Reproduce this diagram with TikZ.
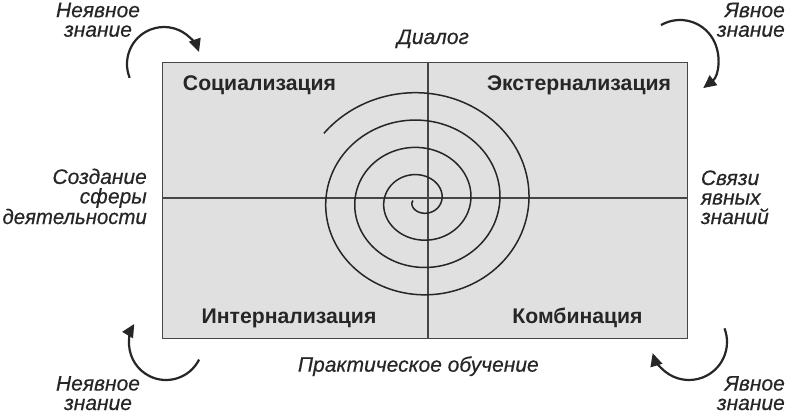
\documentclass[tikz,border=0pt]{standalone}
\usepackage{fontspec}
\setmainfont{Liberation Sans}[ItalicFeatures={FakeBold=0.4}]
\usetikzlibrary{arrows.meta}
\definecolor{boxfill}{RGB}{224,224,224}
\definecolor{linegray}{RGB}{70,70,70}
\definecolor{inkgray}{RGB}{38,38,38}
\begin{document}
\begin{tikzpicture}[x=1pt,y=-1pt,
  quad/.style={font=\fontsize{21.2}{22}\selectfont\bfseries, text=inkgray, anchor=base, inner sep=0pt},
  side/.style={font=\fontsize{21}{19.5}\selectfont\itshape, text=inkgray, inner sep=0pt},
  turn/.style={draw=inkgray, line width=2.2pt, -{Triangle[length=13pt,width=12pt]}},
  gridline/.style={draw=linegray, line width=1.6pt},
  spiralline/.style={draw=inkgray, line width=1.5pt}]
\useasboundingbox (0,0) rectangle (790,413);
\fill[white] (0,0) rectangle (790,413);
% box
\node[draw=linegray, fill=boxfill, line width=1.6pt, minimum width=525pt, minimum height=276pt, inner sep=0pt] (box) at (425,200.5) {};
\coordinate (vt) at (427.7,62.5);
\coordinate (vb) at (427.7,338.5);
\coordinate (hl) at (162.5,197.7);
\coordinate (hr) at (687.5,197.7);
\draw[gridline] (vt) -- (vb);
\draw[gridline] (hl) -- (hr);
% spiral
\draw[spiralline] plot[domain=180:1583, samples=600, smooth] ({420.1+0.0808*(\x-93)*cos(\x)},{200.6-0.0761*(\x-113)*sin(\x)});
% quadrant labels
\node[quad] (soc) at (259.5,90.5) {Социализация};
\node[quad] (ext) at (579,90.5) {Экстернализация};
\node[quad] (int) at (289,323.3) {Интернализация};
\node[quad] (kom) at (577.5,323.3) {Комбинация};
% side labels (base anchor = baseline of the last line)
\node[side, anchor=base] (dia) at (433,44) {Диалог};
\node[side, anchor=base] (pra) at (418.3,371.7) {Практическое обучение};
\node[side, align=right, anchor=base east] (soz) at (147,224) {Создание\\сферы\\\scalebox{0.97}[1]{деятельности}};
\node[side, align=left, anchor=base west] (svy) at (700.7,224) {Связи\\явных\\знаний};
\node[side, align=center, anchor=base] (tl) at (98,36.7) {Неявное\\знание};
\node[side, align=right, anchor=base east] (tr) at (785,36.7) {Явное\\знание};
\node[side, align=center, anchor=base] (bl) at (98,410) {Неявное\\знание};
\node[side, align=right, anchor=base east] (br) at (785,410) {Явное\\знание};
% turning arrows
\coordinate (ctl) at (164,64);
\coordinate (ctr) at (680,58);
\coordinate (cbr) at (689,342);
\coordinate (cbl) at (166,343);
\draw[turn] ([shift={(-202:37)}]ctl) arc[start angle=-202, end angle=-19, radius=37];
\draw[turn] ([shift={(-120:38)}]ctr) arc[start angle=-120, end angle=52.4, radius=38];
\draw[turn] ([shift={(-21:38)}]cbr) arc[start angle=-21, end angle=163, radius=38];
\draw[turn] ([shift={(26.6:37)}]cbl) arc[start angle=26.6, end angle=211, radius=37];
\end{tikzpicture}
\end{document}
